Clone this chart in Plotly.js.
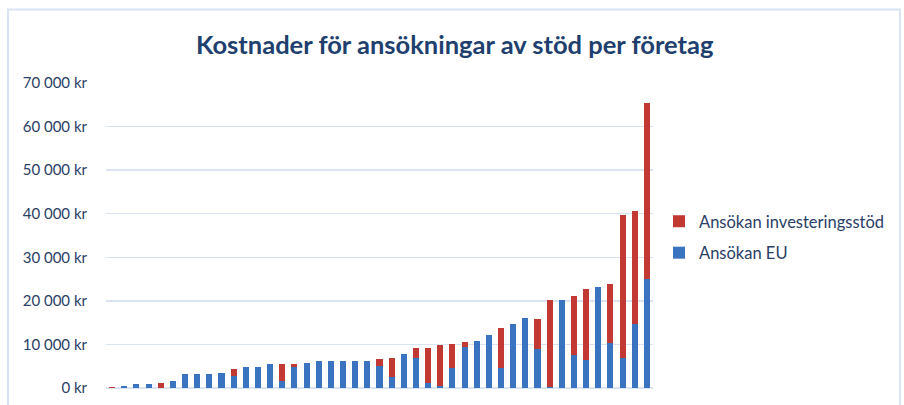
<!DOCTYPE html>
<html>
<head>
<meta charset="utf-8">
<script src="https://cdn.plot.ly/plotly-3.0.1.min.js"></script>
<style>html,body{margin:0;padding:0;background:#fff;}#chart{width:904px;height:405px;}</style>
</head>
<body>
<div id="chart"></div>
<script>
var companies = [];
for (var i = 1; i <= 45; i++) { companies.push('Företag ' + i); }
var ansokanEU = [0, 400, 1000, 1000, 0, 1500, 3300, 3300, 3300, 3500, 2850, 4900, 4900, 5400, 1700, 4900, 5800, 6100, 6100, 6100, 6300, 6300, 5150, 2600, 7900, 6800, 1200, 500, 4700, 9300, 10700, 12100, 4500, 14600, 16000, 9000, 200, 20200, 7600, 6500, 23100, 10400, 6900, 14700, 25000];
var ansokanInvest = [300, 0, 0, 0, 1200, 0, 0, 0, 0, 0, 1600, 0, 0, 0, 3700, 700, 0, 0, 0, 0, 0, 0, 1600, 4400, 0, 2300, 7900, 9300, 5500, 1200, 0, 0, 9200, 0, 0, 6900, 20000, 0, 13500, 16200, 0, 13400, 32700, 26000, 40400];
var yTickVals = [0, 10000, 20000, 30000, 40000, 50000, 60000, 70000];
var yTickText = ['0 kr', '10 000 kr', '20 000 kr', '30 000 kr', '40 000 kr', '50 000 kr', '60 000 kr', '70 000 kr'];

var traces = [
  {type: 'bar', name: 'Ansökan EU', x: companies, y: ansokanEU, legendgroup: 'eu', legendrank: 2,
   marker: {color: '#3A73BF'}},
  {type: 'bar', name: 'Ansökan investeringsstöd', x: companies, y: ansokanInvest, legendgroup: 'inv', legendrank: 1,
   marker: {color: '#C23833'}}
];

var layout = {
  width: 904, height: 405,
  margin: {l: 106, r: 251, t: 83, b: 17, pad: 0},
  paper_bgcolor: '#ffffff', plot_bgcolor: '#ffffff',
  barmode: 'stack', bargap: 0.5,
  font: {family: 'Lato, "Open Sans", sans-serif', color: '#2A4066', size: 15},
  title: {text: '<b>Kostnader för ansökningar av stöd per företag</b>',
          font: {family: 'Lato, "Open Sans", sans-serif', size: 25.5, color: '#203F6E'},
          x: 0.503, xref: 'container', xanchor: 'center', y: 0.889, yref: 'container', yanchor: 'middle'},
  xaxis: {showticklabels: false, ticks: '', showgrid: false, zeroline: false, showline: false,
          range: [-0.5, 44.5], fixedrange: true},
  yaxis: {range: [0, 70000], tickvals: yTickVals, ticktext: yTickText, showgrid: true,
          gridcolor: '#D9E3F1', gridwidth: 1.5, zeroline: true, zerolinecolor: '#D9E3F1', zerolinewidth: 2,
          showline: false, ticks: '', ticklabelstandoff: 18, tickfont: {size: 15, color: '#2A4066'}},
  showlegend: true,
  legend: {traceorder: 'grouped', tracegroupgap: 7, xref: 'container', yref: 'container',
           x: 659/904, xanchor: 'left', y: 1 - 204/405, yanchor: 'top',
           font: {size: 16.5, color: '#2A4066'}, bgcolor: 'rgba(0,0,0,0)'},
  shapes: [
    {type: 'rect', xref: 'paper', yref: 'paper', x0: (8 - 106) / 547, x1: (900 - 106) / 547,
     y0: (388 - 412) / 305, y1: (388 - 9.5) / 305, line: {color: '#DAE3F3', width: 2}, fillcolor: 'rgba(0,0,0,0)', layer: 'below'}
  ]
};

Plotly.newPlot('chart', traces, layout, {displayModeBar: false, staticPlot: true});
</script>
</body>
</html>
